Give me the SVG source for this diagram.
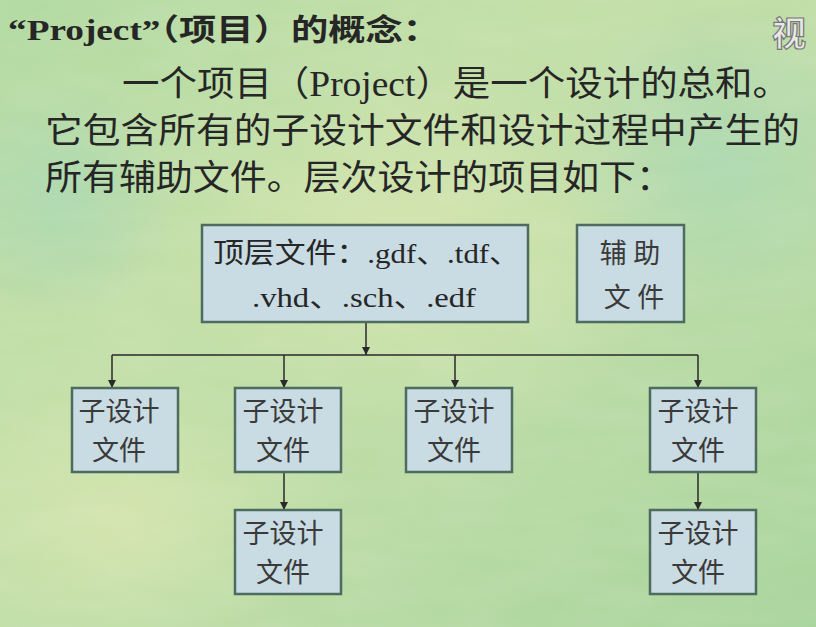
<svg xmlns="http://www.w3.org/2000/svg" width="816" height="627" viewBox="0 0 816 627">
<defs>
<linearGradient id="bg" x1="0" y1="0" x2="1" y2="1">
<stop offset="0" stop-color="#b2daa2"/>
<stop offset="0.35" stop-color="#c4dfa8"/>
<stop offset="0.6" stop-color="#bcdca6"/>
<stop offset="1" stop-color="#a9d49c"/>
</linearGradient>
<radialGradient id="blob1" cx="0.5" cy="0.5" r="0.5">
<stop offset="0" stop-color="#d8e6b0" stop-opacity="0.8"/>
<stop offset="1" stop-color="#d8e6b0" stop-opacity="0"/>
</radialGradient>
<radialGradient id="blob2" cx="0.5" cy="0.5" r="0.5">
<stop offset="0" stop-color="#a6d6b4" stop-opacity="0.7"/>
<stop offset="1" stop-color="#a6d6b4" stop-opacity="0"/>
</radialGradient>
<filter id="tex" x="0" y="0" width="100%" height="100%">
<feTurbulence type="fractalNoise" baseFrequency="0.012 0.04" numOctaves="3" seed="4"/>
<feColorMatrix type="matrix" values="0 0 0 0 0.85  0 0 0 0 0.92  0 0 0 0 0.75  0 0 0 0.5 -0.1"/>
</filter>
<marker id="arr" viewBox="0 0 10 10" refX="10" refY="5" markerWidth="8" markerHeight="8" markerUnits="userSpaceOnUse" orient="auto">
<path d="M0,0 L10,5 L0,10 Z" fill="#2a2a2a"/>
</marker>
<style>
.box{fill:#c9dbe3;stroke:#4d6b5e;stroke-width:2.5}
.t{font-family:"Liberation Serif","Noto Sans CJK SC",serif;fill:#262626}
.bt{font-family:"Liberation Serif","Noto Sans CJK SC",serif;fill:#3a3a3a;font-size:27px;text-anchor:middle}
.c{fill:none;stroke:#2a2a2a;stroke-width:1.5}
</style>
</defs>
<rect width="816" height="627" fill="url(#bg)"/>
<ellipse cx="420" cy="250" rx="260" ry="180" fill="url(#blob1)"/>
<ellipse cx="120" cy="520" rx="200" ry="140" fill="url(#blob1)"/>
<ellipse cx="720" cy="160" rx="160" ry="160" fill="url(#blob2)"/>
<ellipse cx="60" cy="200" rx="120" ry="120" fill="url(#blob2)"/>
<rect width="816" height="627" filter="url(#tex)" opacity="0.35"/>

<text class="t" x="8" y="40" font-size="30" font-weight="bold" textLength="432" lengthAdjust="spacingAndGlyphs">“Project”（项目）的概念：</text>
<text x="772" y="46" font-family="Noto Sans CJK SC,sans-serif" font-size="34" font-weight="bold" fill="#e8e8e8" stroke="#777" stroke-width="1.2">视</text>
<text class="t" x="122" y="96" font-size="35" textLength="668" lengthAdjust="spacingAndGlyphs">一个项目（Project）是一个设计的总和。</text>
<text class="t" x="45" y="143" font-size="35" textLength="755" lengthAdjust="spacingAndGlyphs">它包含所有的子设计文件和设计过程中产生的</text>
<text class="t" x="45" y="190" font-size="35" textLength="628" lengthAdjust="spacingAndGlyphs">所有辅助文件。层次设计的项目如下：</text>

<g id="connectors">
<line class="c" x1="366" y1="322" x2="366" y2="355" marker-end="url(#arr)"/>
<line class="c" x1="112" y1="355" x2="698" y2="355"/>
<line class="c" x1="112" y1="355" x2="112" y2="388" marker-end="url(#arr)"/>
<line class="c" x1="284" y1="355" x2="284" y2="388" marker-end="url(#arr)"/>
<line class="c" x1="455" y1="355" x2="455" y2="388" marker-end="url(#arr)"/>
<line class="c" x1="698" y1="355" x2="698" y2="388" marker-end="url(#arr)"/>
<line class="c" x1="284" y1="472" x2="284" y2="510" marker-end="url(#arr)"/>
<line class="c" x1="698" y1="472" x2="698" y2="510" marker-end="url(#arr)"/>
</g>

<g id="top">
<rect class="box" x="202" y="225" width="326" height="97"/>
<text class="t" x="213" y="263" font-size="28" fill="#3a3a3a" textLength="307" lengthAdjust="spacingAndGlyphs">顶层文件：.gdf、.tdf、</text>
<text class="t" x="252" y="307" font-size="28" fill="#3a3a3a" textLength="224" lengthAdjust="spacingAndGlyphs">.vhd、.sch、.edf</text>
</g>
<g id="aux">
<rect class="box" x="577" y="225" width="107" height="97"/>
<text class="bt" x="630" y="263">辅 助</text>
<text class="bt" x="634" y="307">文 件</text>
</g>
<g id="sub1">
<rect class="box" x="72" y="388" width="106" height="84"/>
<text class="bt" x="119" y="421">子设计</text>
<text class="bt" x="119" y="460">文件</text>
</g>
<g id="sub2">
<rect class="box" x="235" y="388" width="106" height="84"/>
<text class="bt" x="283" y="421">子设计</text>
<text class="bt" x="283" y="460">文件</text>
</g>
<g id="sub3">
<rect class="box" x="406" y="388" width="106" height="84"/>
<text class="bt" x="454" y="421">子设计</text>
<text class="bt" x="454" y="460">文件</text>
</g>
<g id="sub4">
<rect class="box" x="650" y="388" width="106" height="84"/>
<text class="bt" x="698" y="421">子设计</text>
<text class="bt" x="698" y="460">文件</text>
</g>
<g id="sub5">
<rect class="box" x="235" y="510" width="106" height="84"/>
<text class="bt" x="283" y="543">子设计</text>
<text class="bt" x="283" y="582">文件</text>
</g>
<g id="sub6">
<rect class="box" x="650" y="510" width="106" height="84"/>
<text class="bt" x="698" y="543">子设计</text>
<text class="bt" x="698" y="582">文件</text>
</g>
</svg>
